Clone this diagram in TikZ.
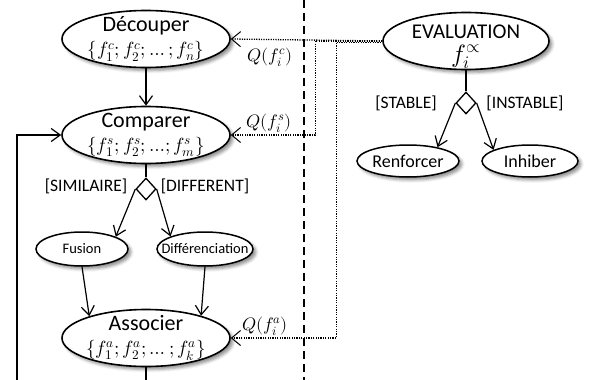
\documentclass[tikz,border=0pt]{standalone}
\usepackage{fontspec}
\usepackage{unicode-math}
\setmainfont{Carlito}
\usetikzlibrary{shapes.geometric,arrows.meta,shadows.blur}

\tikzset{
  shade/.style={blur shadow={shadow xshift=3pt, shadow yshift=-3pt,
      shadow blur radius=3pt, shadow opacity=45}},
  task/.style={ellipse, draw, line width=1.6pt, fill=white, shade,
    align=center, inner xsep=-40pt, inner ysep=-25pt,
    minimum width=168pt, minimum height=57pt,
    font=\fontsize{22}{24}\selectfont},
  subtask/.style={ellipse, draw, line width=1.5pt, fill=white, shade,
    inner xsep=-40pt, inner ysep=-10pt, minimum width=92pt, minimum height=34pt,
    font=\fontsize{14.5}{15}\selectfont},
  outcome/.style={ellipse, draw, line width=1.5pt, fill=white, shade,
    inner xsep=-40pt, inner ysep=-10pt, minimum height=32pt,
    font=\fontsize{18}{18}\selectfont},
  choice/.style={diamond, draw, fill=white, line width=1.3pt, inner sep=0pt,
    minimum width=20pt, minimum height=22pt},
  guard/.style={font=\fontsize{17.5}{18}\selectfont},
  quality/.style={font=\fontsize{18}{18}\selectfont},
  flow/.style={line width=1.2pt,
    -{Straight Barb[length=9pt, width=13pt, line width=1.2pt]}},
  feedback/.style={line width=1.3pt, dash pattern=on 1.2pt off 1.2pt,
    -{Straight Barb[length=9pt, width=15pt, line width=1pt]}}
}

\newcommand{\mathrow}[1]{{\fontsize{19}{19}\selectfont$#1$}}

\begin{document}
\begin{tikzpicture}[x=1pt, y=-1pt]
  \useasboundingbox (0,0) rectangle (589,380);
  % separation between the two sides
  \draw[line width=1.3pt, dash pattern=on 8pt off 5pt] (304,0) -- (304,380);
  % left side: the tasks
  \node[task] (dec) at (146,39) {D\'ecouper\\ \mathrow{\{f_1^c;f_2^c;\dots;f_n^c\}}};
  \node[task] (comp) at (146,135) {Comparer\\ \mathrow{\{f_1^s;f_2^s;{\dots};f_m^s\}}};
  \node[choice] (d1) at (146,189) {};
  \node[subtask] (fus) at (82,249) {Fusion};
  \node[subtask, minimum width=96pt] (diff) at (205,249) {Diff\'erenciation};
  \node[task] (asso) at (146,338) {Associer\\ \mathrow{\{f_1^a;f_2^a;\dots;f_k^a\}}};
  \node[guard] at (86,186) {[SIMILAIRE]};
  \node[guard] at (205,186) {[DIFFERENT]};
  % right side: the evaluation
  \node[task, minimum width=166pt, font=\fontsize{21}{24}\selectfont] (eval)
  at (466,41) {\rule{0pt}{25pt}EVALUATION\\
    {\fontsize{25}{25}\selectfont$f_i^{\propto}$}};
  \node[choice] (d2) at (466,103) {};
  \node[outcome, minimum width=102pt] (ren) at (408,161) {Renforcer};
  \node[outcome, minimum width=96pt] (inh) at (530,161) {Inhiber};
  \node[guard] at (406,103) {[STABLE]};
  \node[guard] at (525,103) {[INSTABLE]};
  % draw the flow
  \draw[flow] (dec) -- (comp);
  \draw[line width=1.2pt] (comp.south) -- (d1.north);
  \draw[flow] (d1.west) -- (fus.20);
  \draw[flow] (d1.east) -- (diff.160);
  \draw[flow] (fus.south) -- (asso.159);
  \draw[flow] (diff.south) -- (asso.22);
  \coordinate (back) at (17,400);
  \draw[flow] (asso.south) |- (back) |- (comp.west);
  \draw[line width=1.2pt] (eval.south) -- (d2.north);
  \draw[flow] (d2.west) -- (ren.25);
  \draw[flow] (d2.east) -- (inh.163);
  % draw the quality feedback
  \draw[feedback] (eval.west) -- (dec.east);
  \draw[feedback] (eval.west) -- ++(-67,0) |- (comp.east);
  \draw[feedback, dash phase=1.2pt] ([yshift=-1.2pt]eval.west) -- ++(-46,0)
  |- (asso.east);
  \node[quality] at (270,57) {$Q(f_i^c)$};
  \node[quality] at (269,123) {$Q(f_i^s)$};
  \node[quality] at (265,326) {$Q(f_i^a)$};
\end{tikzpicture}
\end{document}
